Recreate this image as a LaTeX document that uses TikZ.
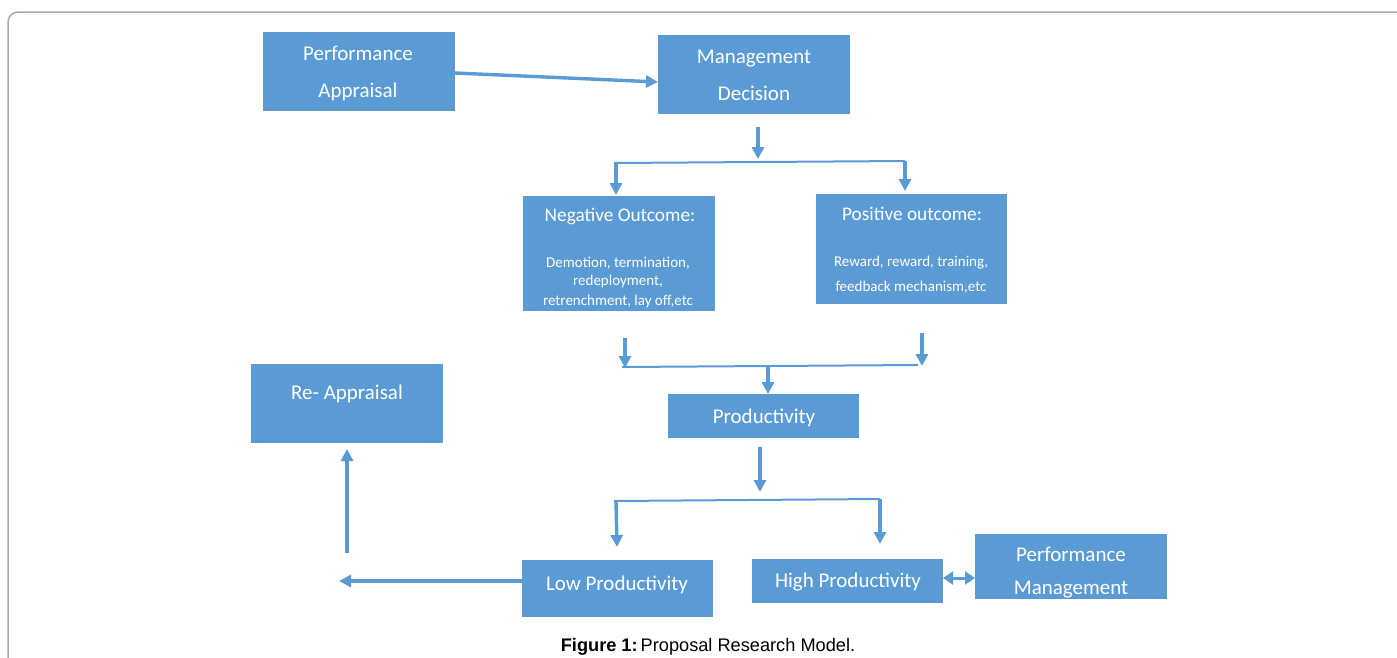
\documentclass[tikz,border=0pt]{standalone}
\usepackage{fontspec}
\setmainfont{Carlito}
\newfontfamily\capfont{Liberation Sans}
\usetikzlibrary{arrows.meta}
\definecolor{boxblue}{HTML}{5B9BD5}
\definecolor{lineblue}{HTML}{5B9BD5}
\definecolor{framegray}{HTML}{ABABAB}
\begin{document}
\begin{tikzpicture}[x=1pt,y=-1pt,
 box/.style={fill=boxblue, draw=none, inner sep=0pt, outer sep=0pt},
 lbl/.style={text=white, anchor=base, inner sep=0pt, font=\fontsize{21}{24}\selectfont},
 ttl/.style={lbl, font=\fontsize{19.3}{22}\selectfont},
 sml/.style={lbl, font=\fontsize{15}{18}\selectfont},
 conn/.style={draw=lineblue, line width=3.4pt, -{Triangle[width=12pt,length=12pt]}},
 dconn/.style={draw=lineblue, line width=3pt, {Triangle[width=13pt,length=10pt]}-{Triangle[width=13pt,length=10pt]}},
 bar/.style={draw=lineblue, line width=2pt},
]
\useasboundingbox (0,0) rectangle (1397,657);
\begin{scope}
\clip (0,0) rectangle (1397,657);
\draw[framegray, line width=1.5pt, rounded corners=10pt] (8,12) rectangle (1430,690);
\end{scope}

% boxes
\node[box, minimum width=192, minimum height=79] (pa) at (359,71.5) {};
\node[box, minimum width=192, minimum height=79] (md) at (754,74.5) {};
\node[box, minimum width=192, minimum height=115] (neg) at (619,253.5) {};
\node[box, minimum width=191, minimum height=110] (pos) at (911.5,249) {};
\node[box, minimum width=192, minimum height=79] (ra) at (347,403.5) {};
\node[box, minimum width=191, minimum height=44] (prod) at (763.5,416) {};
\node[box, minimum width=191, minimum height=57] (low) at (617.5,588.5) {};
\node[box, minimum width=191, minimum height=44] (high) at (847.5,581) {};
\node[box, minimum width=192, minimum height=65] (pm) at (1071,566.5) {};

% texts
\node[lbl] (pa-t1) at (358,60) {Performance};
\node[lbl] (pa-t2) at (358,97) {Appraisal};
\node[lbl] (md-t1) at (754,63) {Management};
\node[lbl] (md-t2) at (754,100) {Decision};
\node[ttl] (neg-t) at (620,221.5) {Negative Outcome:};
\node[sml] (neg-1) at (618,267) {Demotion, termination,};
\node[sml] (neg-2) at (618,285) {redeployment,};
\node[sml] (neg-3) at (618,305) {retrenchment, lay off,etc};
\node[ttl] (pos-t) at (912,220.5) {Positive outcome:};
\node[sml] (pos-1) at (911,266) {Reward, reward, training,};
\node[sml] (pos-2) at (911,291.5) {feedback mechanism,etc};
\node[lbl] (ra-t) at (347,399) {Re- Appraisal};
\node[lbl] (prod-t) at (764,423) {Productivity};
\node[lbl] (low-t) at (617,590) {Low Productivity};
\node[lbl] (high-t) at (848,587) {High Productivity};
\node[lbl] (pm-t1) at (1071,561) {Performance};
\node[lbl] (pm-t2) at (1071,594) {Management};

% caption
\node[anchor=base, inner sep=0pt, font=\capfont\fontsize{18.2}{21}\selectfont] (cap) at (708,651.5) {\textbf{Figure 1:}\,Proposal Research Model.};

% junction coordinates
\coordinate (md-o) at (758,127);
\coordinate (md-e) at (758,159);
\coordinate (b1l) at (614,163);
\coordinate (b1r) at (905,161);
\coordinate (ng-o) at (625,338);
\coordinate (ng-e) at (625,368);
\coordinate (ps-o) at (922,333);
\coordinate (ps-e) at (922,366);
\coordinate (b2l) at (622,367);
\coordinate (b2r) at (918,365);
\coordinate (b2m) at (768,366);
\coordinate (pr-o) at (760,447);
\coordinate (pr-e) at (760,492);
\coordinate (b3l) at (614,501);
\coordinate (b3r) at (880,499);
\coordinate (lp-e) at (339,581);
\coordinate (up-o) at (347,553);

% connectors
\draw[conn] ([yshift=-1.5]pa.east) -- ([yshift=-7.5]md.west);
\draw[conn] (md-o) -- (md-e);
\draw[bar] (b1l) -- (b1r);
\draw[conn] (616,163) -- ([xshift=-3,yshift=1]neg.north);
\draw[conn] (b1r) -- ([xshift=-6.5,yshift=3]pos.north);
\draw[conn] (ng-o) -- (ng-e);
\draw[conn] (ps-o) -- (ps-e);
\draw[bar] (b2l) -- (b2r);
\draw[conn] (b2m) -- ([xshift=4.5]prod.north);
\draw[conn] (pr-o) -- (pr-e);
\draw[bar] (b3l) -- (b3r);
\draw[conn] (616,501) -- ([xshift=-0.5,yshift=13]low.north);
\draw[conn] (b3r) -- ([xshift=32.5,yshift=15]high.north);
\draw[conn] ([yshift=7.5]low.west) -- (lp-e);
\draw[conn] (up-o) -- ([yshift=-6]ra.south);
\draw[dconn] ([yshift=3]high.east) -- ([yshift=-11.5]pm.west);
\end{tikzpicture}
\end{document}
